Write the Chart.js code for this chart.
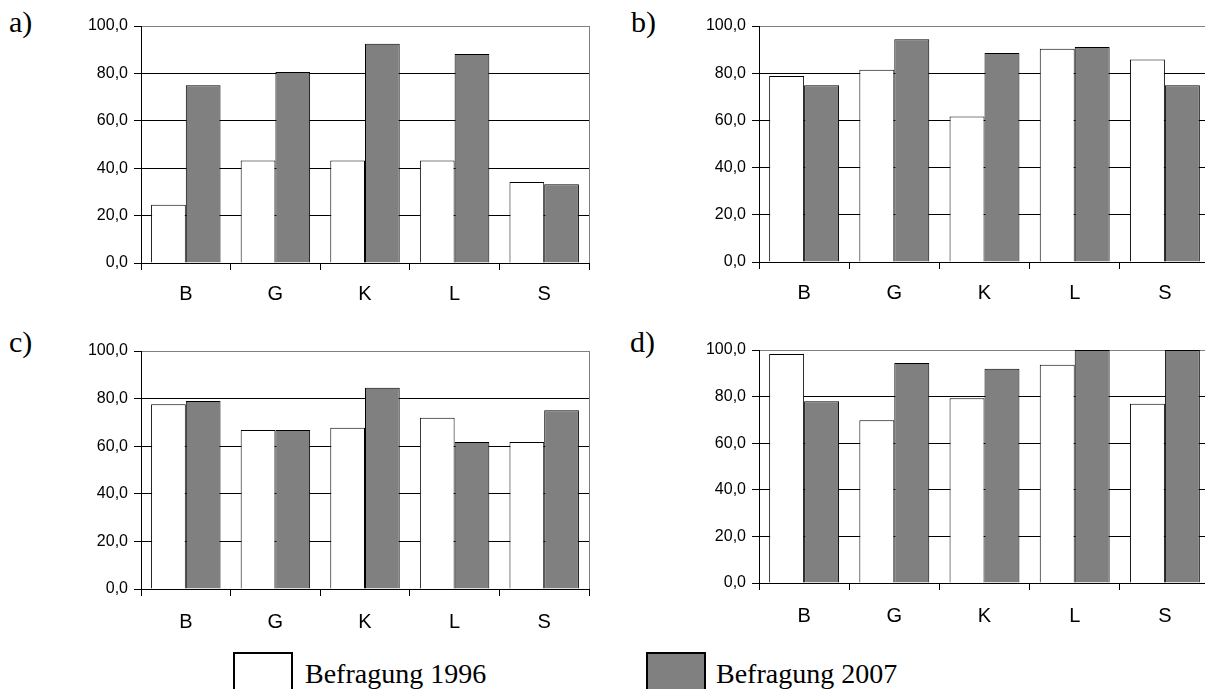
<!DOCTYPE html>
<html>
<head>
<meta charset="utf-8">
<script src="https://cdn.jsdelivr.net/npm/chart.js@4/dist/chart.umd.min.js"></script>
<style>
html, body { margin: 0; padding: 0; width: 1205px; height: 689px; overflow: hidden; background: #fff; }
body { position: relative; }
canvas { position: absolute; }
.lab { position: absolute; font-family: 'Liberation Serif', 'Times New Roman', serif; font-size: 30px; line-height: 30px; color: #000; }
.key { position: absolute; box-sizing: border-box; width: 60px; height: 60px; border: 2px solid #000; }
.keytxt { position: absolute; font-family: 'Liberation Serif', 'Times New Roman', serif; font-size: 28px; line-height: 28px; white-space: nowrap; color: #000; }
</style>
</head>
<body>
<div class="lab" style="left:9px;top:7px">a)</div>
<div class="lab" style="left:631px;top:7px">b)</div>
<div class="lab" style="left:9px;top:327px">c)</div>
<div class="lab" style="left:630px;top:327px">d)</div>

<canvas id="pa"></canvas>
<canvas id="pb"></canvas>
<canvas id="pc"></canvas>
<canvas id="pd"></canvas>

<div class="key" style="left:233px;top:652px;background:#fff"></div>
<div class="keytxt" style="left:305px;top:660px">Befragung 1996</div>
<div class="key" style="left:646px;top:652px;background:#808080"></div>
<div class="keytxt" style="left:716px;top:660px">Befragung 2007</div>

<script>
var categories = ['B', 'G', 'K', 'L', 'S'];

var a1996 = [24.6, 43.3, 43.3, 43.3, 34.2];
var a2007 = [75.0, 80.6, 92.5, 88.2, 33.2];

var b1996 = [78.8, 81.5, 61.7, 90.4, 85.8];
var b2007 = [74.9, 94.4, 88.6, 91.1, 74.9];

var c1996 = [77.6, 66.8, 67.8, 72.0, 61.8];
var c2007 = [79.0, 66.8, 84.6, 61.8, 75.1];

var d1996 = [98.3, 69.9, 79.3, 93.7, 76.9];
var d2007 = [78.0, 94.4, 92.0, 100.0, 100.0];

Chart.defaults.font.family = "'Liberation Sans', Arial, sans-serif";
Chart.defaults.color = '#000';

function panel(id, axisX, top, bottom, right, labelGap, s1996, s2007) {
    var left = axisX - 80;
    var cv = document.getElementById(id);
    cv.width = right - left + 4;
    cv.height = bottom - top + 26 + 50;
    cv.style.left = left + 'px';
    cv.style.top = (top - 26) + 'px';

    new Chart(cv.getContext('2d'), {
        type: 'bar',
        data: {
            labels: categories,
            datasets: [{
                label: 'Befragung 1996',
                data: s1996,
                backgroundColor: '#ffffff',
                borderColor: '#000',
                borderWidth: 1,
                categoryPercentage: 0.775,
                barPercentage: 1
            }, {
                label: 'Befragung 2007',
                data: s2007,
                backgroundColor: '#808080',
                borderColor: '#000',
                borderWidth: 1,
                categoryPercentage: 0.775,
                barPercentage: 1
            }]
        },
        options: {
            responsive: false,
            animation: false,
            layout: { padding: { top: 26, right: 4, left: 0, bottom: 0 } },
            plugins: { legend: { display: false }, tooltip: { enabled: false } },
            scales: {
                x: {
                    grid: {
                        offset: true,
                        color: function(c) { return c.type === 'tick' ? 'rgba(0,0,0,0)' : '#808080'; },
                        tickColor: '#000',
                        tickLength: 7
                    },
                    border: { color: '#000' },
                    ticks: { font: { size: 20 }, color: '#000', padding: labelGap, maxRotation: 0 },
                    afterFit: function(s) { s.height = 50; }
                },
                y: {
                    min: 0,
                    max: 100,
                    ticks: {
                        stepSize: 20,
                        font: { size: 16 },
                        color: '#000',
                        padding: 6,
                        callback: function(v) { return v.toFixed(1).replace('.', ','); }
                    },
                    grid: {
                        color: function(c) { return c.tick && c.tick.value === 100 ? '#808080' : '#000'; },
                        tickColor: '#000',
                        tickLength: 7
                    },
                    border: { color: '#000' },
                    afterFit: function(s) { s.width = 80; }
                }
            }
        }
    });
}

panel('pa', 141, 26, 263, 589, 12, a1996, a2007);
panel('pb', 759, 26, 262, 1210, 12, b1996, b2007);
panel('pc', 141, 351, 589, 589, 14, c1996, c2007);
panel('pd', 759, 350, 583, 1210, 14, d1996, d2007);
</script>
</body>
</html>
